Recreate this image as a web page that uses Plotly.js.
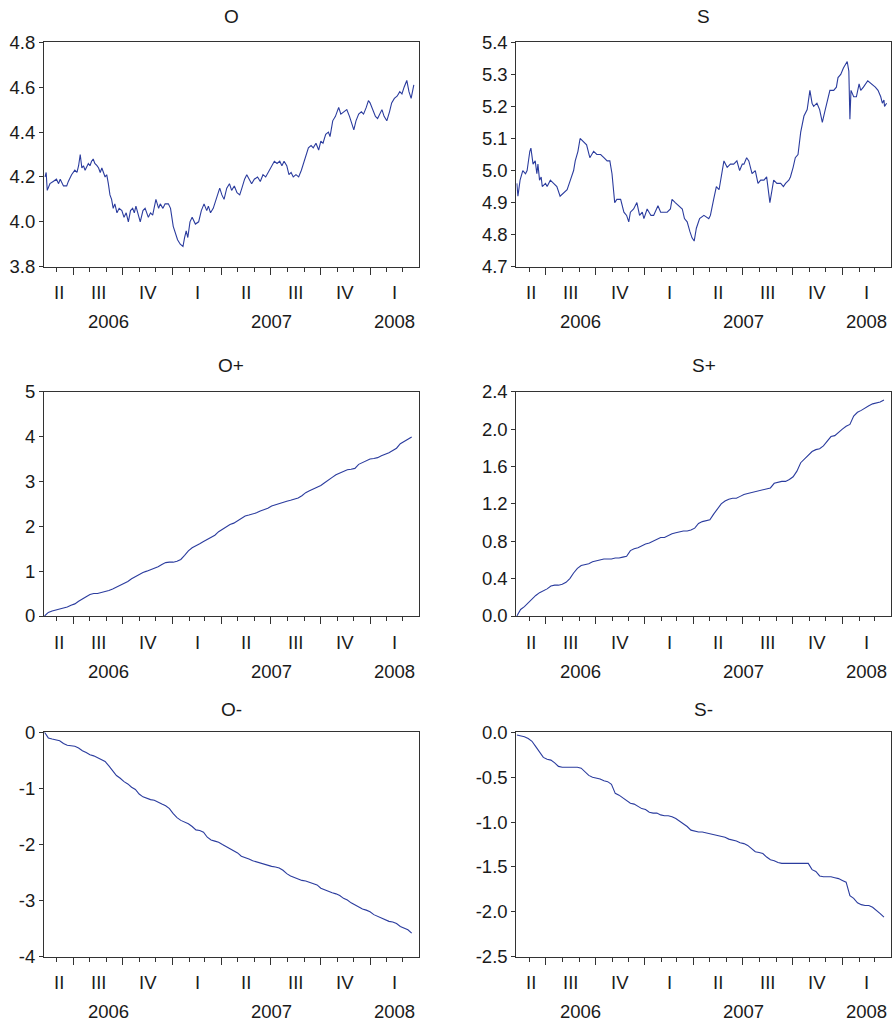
<!DOCTYPE html>
<html><head><meta charset="utf-8">
<script src="https://cdn.plot.ly/plotly-3.0.1.min.js"></script>
<style>html,body{margin:0;padding:0;background:#fff}#chart{width:894px;height:1022px}</style>
</head><body><div id="chart"></div>
<script>
// ---- data ----
// day offsets are counted from baseDate
const baseDate = '2006-05-08';

// O and S: readings at irregular days
const O_day = [2,4,6,11,17,23,27,30,36,42,
45,51,57,61,64,67,70,73,76,82,
85,88,91,94,98,101,104,107,113,116,
119,122,125,128,131,135,139,144,148,152,
156,160,164,167,170,175,178,183,187,193,
197,201,205,207,212,215,220,224,230,234,
239,244,247,252,257,260,263,266,270,274,
280,286,291,296,301,304,308,313,318,325,
329,333,338,343,347,352,357,362,366,371,
375,380,384,389,395,400,405,410,415,421,
426,431,436,440,444,449,453,457,461,466,
471,476,483,489,494,498,503,508,512,516,
521,526,529,534,539,545,549,554,560,565,
569,573,577,582,587,591,596,600,603,608,
613,617,622,625,629,634,639,643,648,653,
658,662,666,671,675,679,684];
const O_val = [4.20,4.22,4.14,4.17,4.18,4.19,4.17,4.19,4.16,4.16,
4.18,4.21,4.23,4.22,4.25,4.30,4.24,4.25,4.23,4.26,
4.25,4.27,4.28,4.26,4.25,4.24,4.22,4.24,4.20,4.21,
4.17,4.12,4.10,4.06,4.08,4.04,4.06,4.05,4.02,4.04,
4.00,4.05,4.06,4.04,4.07,4.03,4.00,4.05,4.06,4.02,
4.04,4.03,4.07,4.10,4.06,4.08,4.06,4.08,4.08,4.06,
3.98,3.94,3.92,3.90,3.89,3.93,3.96,3.93,4.00,4.02,
3.99,4.00,4.05,4.08,4.05,4.07,4.04,4.06,4.10,4.15,
4.12,4.10,4.15,4.17,4.14,4.16,4.13,4.12,4.15,4.19,
4.21,4.19,4.17,4.19,4.20,4.18,4.21,4.20,4.22,4.25,
4.27,4.26,4.27,4.25,4.27,4.25,4.21,4.22,4.20,4.21,
4.20,4.23,4.28,4.33,4.34,4.33,4.35,4.32,4.36,4.35,
4.39,4.40,4.38,4.45,4.47,4.51,4.48,4.49,4.50,4.47,
4.44,4.41,4.45,4.48,4.49,4.48,4.51,4.54,4.53,4.50,
4.47,4.46,4.49,4.50,4.47,4.45,4.49,4.53,4.55,4.56,
4.58,4.57,4.60,4.63,4.58,4.55,4.61];

const S_day = [1,3,7,12,17,20,25,27,31,35,
38,40,43,46,48,54,57,63,69,75,
81,88,94,100,106,109,114,118,125,130,
136,143,149,156,162,168,173,177,182,186,
193,199,204,208,211,217,223,228,233,236,
242,249,254,262,267,273,279,285,288,294,
300,307,311,316,321,325,329,333,339,347,
356,359,365,370,375,379,384,390,396,402,
408,413,418,421,426,430,436,442,447,452,
458,463,465,469,473,476,482,489,494,498,
504,507,512,516,521,526,532,538,543,547,
550,556,561,566,570,575,580,587,592,595,
600,605,609,612,615,617,619,624,629,634,
637,642,650,658,664,669,674,677,680,681,
685];
const S_val = [4.96,4.92,4.97,5.00,4.99,5.00,5.06,5.07,5.02,5.03,
4.99,5.02,4.97,4.98,4.95,4.96,4.95,4.97,4.96,4.95,
4.92,4.93,4.94,4.97,5.00,5.03,5.06,5.10,5.09,5.08,
5.04,5.06,5.05,5.05,5.04,5.03,5.03,4.99,4.90,4.91,
4.91,4.87,4.86,4.84,4.87,4.88,4.90,4.86,4.87,4.85,
4.88,4.86,4.86,4.89,4.87,4.87,4.87,4.88,4.91,4.90,
4.89,4.88,4.85,4.84,4.81,4.79,4.78,4.82,4.85,4.86,
4.85,4.86,4.91,4.95,4.94,4.98,5.03,5.01,5.02,5.02,
5.03,5.00,5.02,5.02,5.04,5.03,4.99,5.00,4.96,4.97,
4.97,4.98,4.95,4.90,4.94,4.97,4.96,4.96,4.95,4.96,
4.97,4.98,5.01,5.04,5.05,5.12,5.17,5.19,5.25,5.21,
5.20,5.21,5.19,5.15,5.18,5.22,5.25,5.25,5.26,5.29,
5.30,5.32,5.33,5.34,5.31,5.16,5.25,5.23,5.23,5.27,
5.25,5.26,5.28,5.27,5.26,5.25,5.23,5.21,5.22,5.20,
5.21];

// cumulative series: weekly readings, first on day 1, every 7 days
const weeklyFirstDay = 1;
const weeklyStep = 7;

const Oplus = [0.00,0.08,0.11,0.13,0.15,0.18,0.20,0.24,0.27,0.33,
0.39,0.43,0.48,0.50,0.50,0.52,0.55,0.57,0.60,0.64,
0.68,0.72,0.77,0.83,0.88,0.92,0.97,1.00,1.03,1.07,
1.10,1.15,1.19,1.20,1.20,1.22,1.26,1.35,1.45,1.52,
1.56,1.61,1.66,1.71,1.76,1.80,1.88,1.93,1.98,2.04,
2.07,2.12,2.18,2.23,2.25,2.27,2.30,2.34,2.37,2.40,
2.45,2.48,2.50,2.54,2.56,2.58,2.60,2.63,2.68,2.75,
2.79,2.83,2.86,2.91,2.97,3.04,3.09,3.15,3.19,3.23,
3.26,3.27,3.29,3.38,3.42,3.47,3.50,3.51,3.53,3.57,
3.60,3.64,3.69,3.74,3.84,3.90,3.94,3.99];

const Splus = [0.00,0.07,0.10,0.14,0.19,0.22,0.25,0.27,0.29,0.32,
0.33,0.33,0.34,0.36,0.40,0.46,0.51,0.54,0.55,0.56,
0.58,0.59,0.60,0.61,0.61,0.61,0.62,0.62,0.63,0.64,
0.70,0.72,0.73,0.75,0.77,0.78,0.80,0.82,0.84,0.84,
0.86,0.88,0.89,0.90,0.91,0.91,0.92,0.94,0.99,1.01,
1.02,1.03,1.09,1.14,1.20,1.23,1.25,1.26,1.26,1.28,
1.30,1.31,1.32,1.33,1.34,1.35,1.36,1.37,1.42,1.43,
1.44,1.44,1.46,1.49,1.55,1.64,1.68,1.72,1.76,1.78,
1.79,1.82,1.87,1.92,1.93,1.97,2.00,2.03,2.05,2.14,
2.18,2.20,2.23,2.25,2.27,2.28,2.29,2.31];

const Ominus = [0.00,-0.10,-0.12,-0.13,-0.15,-0.20,-0.23,-0.24,-0.25,-0.28,
-0.33,-0.36,-0.40,-0.42,-0.45,-0.48,-0.52,-0.60,-0.68,-0.77,
-0.82,-0.88,-0.92,-0.98,-1.02,-1.10,-1.15,-1.18,-1.20,-1.21,
-1.25,-1.28,-1.31,-1.36,-1.45,-1.52,-1.57,-1.60,-1.63,-1.68,
-1.74,-1.75,-1.78,-1.87,-1.92,-1.94,-1.96,-2.00,-2.04,-2.07,
-2.11,-2.15,-2.21,-2.23,-2.26,-2.29,-2.31,-2.34,-2.36,-2.38,
-2.39,-2.40,-2.42,-2.46,-2.52,-2.56,-2.59,-2.62,-2.64,-2.65,
-2.67,-2.69,-2.72,-2.78,-2.81,-2.84,-2.86,-2.88,-2.91,-2.96,
-2.99,-3.04,-3.08,-3.12,-3.15,-3.17,-3.20,-3.25,-3.28,-3.30,
-3.34,-3.37,-3.38,-3.41,-3.46,-3.49,-3.52,-3.58];

const Sminus = [-0.03,-0.04,-0.05,-0.07,-0.10,-0.16,-0.22,-0.28,-0.30,-0.31,
-0.34,-0.38,-0.39,-0.39,-0.39,-0.39,-0.39,-0.40,-0.44,-0.48,
-0.50,-0.51,-0.52,-0.54,-0.55,-0.58,-0.68,-0.70,-0.73,-0.77,
-0.79,-0.80,-0.83,-0.85,-0.86,-0.89,-0.90,-0.90,-0.92,-0.93,
-0.93,-0.94,-0.96,-0.99,-1.02,-1.05,-1.09,-1.10,-1.11,-1.11,
-1.12,-1.13,-1.14,-1.15,-1.16,-1.17,-1.19,-1.20,-1.21,-1.23,
-1.24,-1.26,-1.29,-1.33,-1.34,-1.35,-1.39,-1.42,-1.43,-1.45,
-1.46,-1.46,-1.46,-1.46,-1.46,-1.46,-1.46,-1.46,-1.53,-1.55,
-1.60,-1.61,-1.61,-1.61,-1.62,-1.63,-1.65,-1.67,-1.82,-1.85,
-1.90,-1.92,-1.93,-1.93,-1.95,-1.98,-2.02,-2.06];

// titles
const titles = ['O','S','O+','S+','O-','S-'];

// y-axis ticks
const yTickVals = [
  [3.8,4.0,4.2,4.4,4.6,4.8],
  [4.7,4.8,4.9,5.0,5.1,5.2,5.3,5.4],
  [0,1,2,3,4,5],
  [0,0.4,0.8,1.2,1.6,2.0,2.4],
  [-4,-3,-2,-1,0],
  [-2.5,-2.0,-1.5,-1.0,-0.5,0]
];
const yTickText = [
  ['3.8','4.0','4.2','4.4','4.6','4.8'],
  ['4.7','4.8','4.9','5.0','5.1','5.2','5.3','5.4'],
  ['0','1','2','3','4','5'],
  ['0.0','0.4','0.8','1.2','1.6','2.0','2.4'],
  ['-4','-3','-2','-1','0'],
  ['-2.5','-2.0','-1.5','-1.0','-0.5','0.0']
];

// x axis: range, quarter boundaries, quarter and year labels
const xRange = ['2006-05-08','2008-03-31'];
const quarterStarts = ['2006-07-01','2006-10-01','2007-01-01','2007-04-01','2007-07-01','2007-10-01','2008-01-01'];
const quarterLabels = ['II','III','IV','I','II','III','IV','I'];
const yearStarts = ['2007-01-01','2008-01-01'];
const yearLabels = ['2006','2007','2008'];

// ---- build ----
const DAY = 86400000;
const ms = s => Date.parse(s+'T00:00:00Z');
const toDate = t => new Date(t).toISOString().slice(0,10);
const fromDays = days => days.map(d => toDate(ms(baseDate)+d*DAY));
function weekly(n){
  const out = [];
  for(let i=0;i<n;i++) out.push(toDate(ms(baseDate)+(weeklyFirstDay+i*weeklyStep)*DAY));
  return out;
}
function midpoints(bounds){
  const edges = [ms(xRange[0])].concat(bounds.map(ms)).concat([ms(xRange[1])]);
  const mids = [];
  for(let i=0;i<edges.length-1;i++) mids.push(new Date((edges[i]+edges[i+1])/2).toISOString().slice(0,19).replace('T',' '));
  return mids;
}
const qMid = midpoints(quarterStarts);
const yMid = midpoints(yearStarts);

const seriesX = [fromDays(O_day), fromDays(S_day), weekly(Oplus.length), weekly(Splus.length), weekly(Ominus.length), weekly(Sminus.length)];
const seriesY = [O_val, S_val, Oplus, Splus, Ominus, Sminus];

const colDom = [[44/894, 418.7/894],[516.3/894, 891/894]];
const rowPx = [[42.3,266.7],[391.7,616],[732.3,956.7]];
const titleShift = [26,26,23];

const FONT = 'Liberation Sans, Arial, Helvetica, sans-serif';
const FS = 18.5;
const TXT = '#1a1a1a';
const LINE = '#333';
const BLUE = '#2b3c9e';

const data = [];
const layout = {
  width:894, height:1022, autosize:false,
  margin:{l:0,r:0,t:0,b:0},
  paper_bgcolor:'#fff', plot_bgcolor:'#fff',
  showlegend:false,
  font:{family:FONT, size:FS, color:TXT},
  annotations:[]
};

seriesY.forEach((vals,k)=>{
  const n = k+1;
  const sx = n===1?'':String(n);
  const col = k%2, row = Math.floor(k/2);
  const yd = [1-rowPx[row][1]/1022, 1-rowPx[row][0]/1022];
  data.push({
    type:'scatter', mode:'lines', x:seriesX[k], y:vals,
    xaxis:'x'+sx, yaxis:'y'+sx,
    line:{color:BLUE, width:1.1}, hoverinfo:'skip'
  });
  const yr = [yTickVals[k][0], yTickVals[k][yTickVals[k].length-1]];
  layout['xaxis'+sx] = {
    domain:colDom[col], anchor:'y'+sx, type:'date', range:xRange,
    showgrid:false, zeroline:false,
    showline:true, mirror:true, linecolor:LINE, linewidth:1,
    tickmode:'array', tickvals:quarterStarts, showticklabels:false,
    ticks:'outside', ticklen:7, tickwidth:1, tickcolor:LINE,
    minor:{tickmode:'linear', tick0:'2006-01-01', dtick:'M1', ticks:'outside', ticklen:4, tickwidth:1, tickcolor:LINE, showgrid:false},
    fixedrange:true
  };
  layout['yaxis'+sx] = {
    domain:yd, anchor:'x'+sx, range:yr,
    showgrid:false, zeroline:false,
    showline:true, mirror:true, linecolor:LINE, linewidth:1,
    tickmode:'array', tickvals:yTickVals[k], ticktext:yTickText[k],
    ticks:'outside', ticklen:4, tickwidth:1, tickcolor:LINE,
    tickfont:{family:FONT, size:FS, color:TXT},
    fixedrange:true
  };
  layout.annotations.push({
    text:titles[k], xref:'x'+sx+' domain', yref:'y'+sx+' domain', x:0.5, y:1,
    yshift:titleShift[row], xanchor:'center', yanchor:'middle', showarrow:false,
    font:{family:FONT, size:19, color:TXT}
  });
  quarterLabels.forEach((q,i)=>{
    layout.annotations.push({
      text:q, xref:'x'+sx, yref:'y'+sx+' domain', x:qMid[i], y:0, yshift:-26,
      xanchor:'center', yanchor:'middle', showarrow:false,
      font:{family:FONT, size:FS, color:TXT}
    });
  });
  yearLabels.forEach((yl,i)=>{
    layout.annotations.push({
      text:yl, xref:'x'+sx, yref:'y'+sx+' domain', x:yMid[i], y:0, yshift:-55,
      xanchor:'center', yanchor:'middle', showarrow:false,
      font:{family:FONT, size:FS, color:TXT}
    });
  });
});

Plotly.newPlot('chart', data, layout, {staticPlot:true, displayModeBar:false});
</script></body></html>
